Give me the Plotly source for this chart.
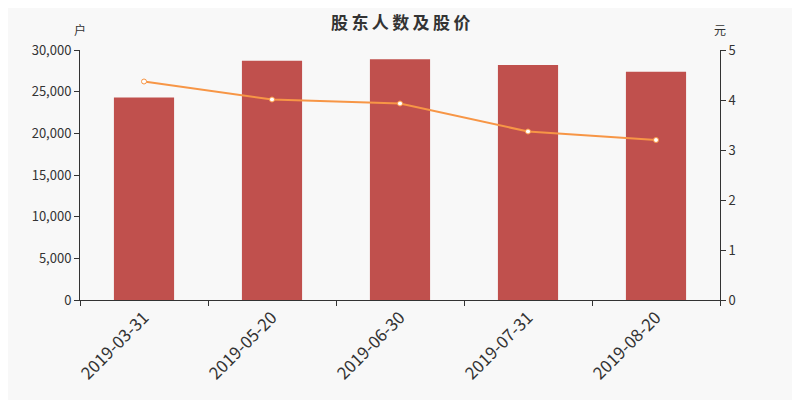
import plotly.graph_objects as go

dates = ["2019-03-31", "2019-05-20", "2019-06-30", "2019-07-31", "2019-08-20"]
holders = [24300, 28700, 28900, 28200, 27400]
price = [4.37, 4.01, 3.93, 3.37, 3.20]

font = "Noto Sans CJK SC"

fig = go.Figure()
fig.add_trace(go.Bar(
    x=dates, y=holders, name="股东人数",
    marker=dict(color="#c0504d", line=dict(width=0)),
    width=0.47,
))
fig.add_trace(go.Scatter(
    x=dates, y=price, name="股价", yaxis="y2",
    mode="lines+markers",
    line=dict(color="#f79646", width=2),
    marker=dict(size=5, color="white", line=dict(color="#f79646", width=1)),
))

title = "\u2009".join("股东人数及股价")

# page body has an 8px margin, so margins are shifted to keep the plot area in place
fig.update_layout(
    width=800, height=400,
    paper_bgcolor="#f8f8f8", plot_bgcolor="#f8f8f8",
    margin=dict(l=72, r=88, t=42, b=108),
    showlegend=False,
    font=dict(family=font, size=13, color="#333"),
    xaxis=dict(
        type="category", tickson="boundaries", ticks="outside", ticklen=5,
        tickangle=-45, tickfont=dict(size=17, color="#333"),
        showline=True, linecolor="#333", linewidth=1, showgrid=False,
        tickcolor="#333",
    ),
    yaxis=dict(
        range=[0, 30000], dtick=5000, tickformat=",", showgrid=False,
        showline=True, linecolor="#333", ticks="outside", ticklen=5, tickcolor="#333",
        zeroline=False,
    ),
    yaxis2=dict(
        range=[0, 5], dtick=1, overlaying="y", side="right", showgrid=False,
        showline=True, linecolor="#333", ticks="outside", ticklen=5, tickcolor="#333",
        zeroline=False,
    ),
    annotations=[
        dict(text=title, xref="paper", yref="paper", x=0.5, y=1.115,
             xanchor="center", yanchor="middle", showarrow=False,
             font=dict(size=17, color="#333", family=font, weight=600)),
        dict(text="户", xref="paper", yref="paper", x=0, y=1.04, xanchor="center",
             yanchor="bottom", showarrow=False, font=dict(size=12, color="#333")),
        dict(text="元", xref="paper", yref="paper", x=1, y=1.04, xanchor="center",
             yanchor="bottom", showarrow=False, font=dict(size=12, color="#333")),
    ],
)

fig.write_html("out.html")
